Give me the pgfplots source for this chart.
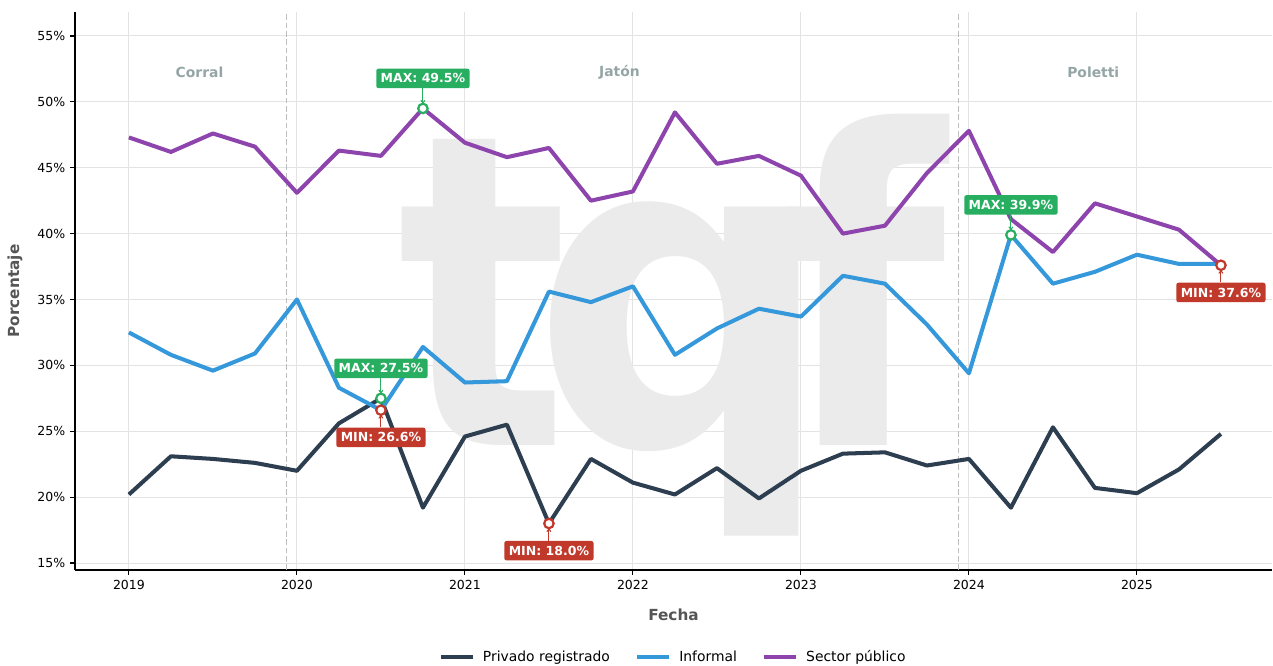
\documentclass[border=0pt]{standalone}
\usepackage{fontspec}
\setmainfont{DejaVu Sans}
\usepackage{graphicx}
\usepackage{pgfplots}
\usepackage{pgfplotstable}
\pgfplotsset{compat=1.18}
\usetikzlibrary{arrows.meta}
\definecolor{cpriv}{HTML}{2C3E50}
\definecolor{cinf}{HTML}{3498DB}
\definecolor{cpub}{HTML}{8E44AD}
\definecolor{cmax}{HTML}{27AE60}
\definecolor{cmin}{HTML}{C0392B}
\definecolor{cmay}{HTML}{95A5A6}
\definecolor{cgrid}{HTML}{E3E3E3}
\definecolor{clab}{HTML}{555555}
\definecolor{cdash}{HTML}{BDBDBD}
\definecolor{cwm}{HTML}{EBEBEB}

\pgfplotstableread{
x y
2019.00 20.2
2019.25 23.1
2019.50 22.9
2019.75 22.6
2020.00 22.0
2020.25 25.6
2020.50 27.5
2020.75 19.2
2021.00 24.6
2021.25 25.5
2021.50 18.0
2021.75 22.9
2022.00 21.1
2022.25 20.2
2022.50 22.2
2022.75 19.9
2023.00 22.0
2023.25 23.3
2023.50 23.4
2023.75 22.4
2024.00 22.9
2024.25 19.2
2024.50 25.3
2024.75 20.7
2025.00 20.3
2025.25 22.1
2025.50 24.8
}\priv

\pgfplotstableread{
x y
2019.00 32.5
2019.25 30.8
2019.50 29.6
2019.75 30.9
2020.00 35.0
2020.25 28.3
2020.50 26.6
2020.75 31.4
2021.00 28.7
2021.25 28.8
2021.50 35.6
2021.75 34.8
2022.00 36.0
2022.25 30.8
2022.50 32.8
2022.75 34.3
2023.00 33.7
2023.25 36.8
2023.50 36.2
2023.75 33.1
2024.00 29.4
2024.25 39.9
2024.50 36.2
2024.75 37.1
2025.00 38.4
2025.25 37.7
2025.50 37.7
}\inf

\pgfplotstableread{
x y
2019.00 47.3
2019.25 46.2
2019.50 47.6
2019.75 46.6
2020.00 43.1
2020.25 46.3
2020.50 45.9
2020.75 49.5
2021.00 46.9
2021.25 45.8
2021.50 46.5
2021.75 42.5
2022.00 43.2
2022.25 49.2
2022.50 45.3
2022.75 45.9
2023.00 44.4
2023.25 40.0
2023.50 40.6
2023.75 44.6
2024.00 47.8
2024.25 41.1
2024.50 38.6
2024.75 42.3
2025.00 41.3
2025.25 40.3
2025.50 37.6
}\pub

\tikzset{
  maxbox/.style={fill=cmax, text=white, font=\bfseries\fontsize{9}{11}\selectfont, rounded corners=1.5pt, inner xsep=3.2pt, inner ysep=3.6pt, anchor=center},
  minbox/.style={fill=cmin, text=white, font=\bfseries\fontsize{9}{11}\selectfont, rounded corners=1.5pt, inner xsep=3.2pt, inner ysep=3.6pt, anchor=center},
  wm/.style={text=cwm, font=\bfseries\fontsize{314}{314}\selectfont, anchor=base, inner sep=0pt},
  mayor/.style={text=cmay, font=\bfseries\fontsize{10}{12}\selectfont, anchor=center}
}

\begin{document}
\begin{tikzpicture}
\path[use as bounding box] (-54pt,-69.12pt) rectangle (862.56pt,410.4pt);
\begin{axis}[
  scale only axis, width=861.84pt, height=401.76pt,
  xmin=2018.679, xmax=2025.804, ymin=14.47, ymax=56.82,
  axis x line*=bottom, axis y line*=left,
  axis line style={-, black, line width=0.8pt},
  xtick={2019,2020,2021,2022,2023,2024,2025},
  ytick={15,20,25,30,35,40,45,50,55},
  yticklabel={\pgfmathprintnumber{\tick}\%},
  /pgf/number format/.cd, fixed, precision=0, 1000 sep={}, assume math mode=true,
  /pgfplots/.cd,
  tick align=outside, major tick length=3.5pt,
  tick style={black, line width=0.8pt},
  ticklabel style={font=\fontsize{9}{11}\selectfont, text=black},
  grid=major, major grid style={cgrid, line width=0.7pt},
  xlabel={Fecha}, ylabel={Porcentaje},
  label style={font=\bfseries\fontsize{11}{13}\selectfont, text=clab},
  xlabel style={at={(axis description cs:0.5,-0.0806)}, anchor=center},
  ylabel style={at={(axis description cs:-0.0501,0.5)}, anchor=center},
  legend style={at={(0.5,-0.156)}, anchor=center, draw=none, fill=none, legend columns=3,
    font=\fontsize{10}{12}\selectfont, /tikz/every even column/.append style={column sep=16pt}},
  legend image code/.code={\draw[#1, line width=2.9pt] (0pt,0pt) -- (23pt,0pt); \path (27pt,0pt);},
]
% watermark
\node[wm] at (axis cs:2021.11,23.95) {\scalebox{0.82}[1]{t}};
\node[wm] at (axis cs:2022.30,23.95) {\scalebox{0.97}[1]{q}};
\node[wm] at (axis cs:2023.37,23.95) {\scalebox{0.88}[1]{f}};

% mandate separators
\draw[cdash, line width=0.9pt, dash pattern=on 4pt off 2pt] (axis cs:2019.94,14.47) -- (axis cs:2019.94,56.82);
\draw[cdash, line width=0.9pt, dash pattern=on 4pt off 2pt] (axis cs:2023.94,14.47) -- (axis cs:2023.94,56.82);
\node[mayor] at (axis cs:2019.42,52.27) {Corral};
\node[mayor] at (axis cs:2021.92,52.27) {Jatón};
\node[mayor] at (axis cs:2024.74,52.27) {Poletti};

\addplot[cpriv, line width=2.9pt, line join=round, no markers] table[x=x,y=y] {\priv};
\addlegendentry{Privado registrado}
\addplot[cinf, line width=2.9pt, line join=round, no markers] table[x=x,y=y] {\inf};
\addlegendentry{Informal}
\addplot[cpub, line width=2.9pt, line join=round, no markers] table[x=x,y=y] {\pub};
\addlegendentry{Sector público}

% annotation boxes
\node[maxbox, yshift=21.6pt] (a1) at (axis cs:2020.75,49.5) {MAX: 49.5\%};
\node[maxbox, yshift=21.6pt] (a2) at (axis cs:2020.50,27.5) {MAX: 27.5\%};
\node[maxbox, yshift=21.6pt] (a3) at (axis cs:2024.25,39.9) {MAX: 39.9\%};
\node[minbox, yshift=-19.6pt] (b1) at (axis cs:2020.50,26.6) {MIN: 26.6\%};
\node[minbox, yshift=-19.6pt] (b2) at (axis cs:2021.50,18.0) {MIN: 18.0\%};
\node[minbox, yshift=-19.6pt] (b3) at (axis cs:2025.50,37.6) {MIN: 37.6\%};
\draw[cmax, line width=0.8pt, -{To[length=2.5pt,width=3.5pt]}] (a1.south) -- ([yshift=3.6pt]axis cs:2020.75,49.5);
\draw[cmax, line width=0.8pt, -{To[length=2.5pt,width=3.5pt]}] (a2.south) -- ([yshift=3.6pt]axis cs:2020.50,27.5);
\draw[cmax, line width=0.8pt, -{To[length=2.5pt,width=3.5pt]}] (a3.south) -- ([yshift=3.6pt]axis cs:2024.25,39.9);
\draw[cmin, line width=0.8pt, -{To[length=2.5pt,width=3.5pt]}] (b1.north) -- ([yshift=-3.6pt]axis cs:2020.50,26.6);
\draw[cmin, line width=0.8pt, -{To[length=2.5pt,width=3.5pt]}] (b2.north) -- ([yshift=-3.6pt]axis cs:2021.50,18.0);
\draw[cmin, line width=0.8pt, -{To[length=2.5pt,width=3.5pt]}] (b3.north) -- ([yshift=-3.6pt]axis cs:2025.50,37.6);

\addplot[only marks, mark=*, mark size=3.4pt, mark options={fill=white, draw=cmax, line width=1.6pt}, forget plot] coordinates {(2020.75,49.5) (2020.50,27.5) (2024.25,39.9)};
\addplot[only marks, mark=*, mark size=3.4pt, mark options={fill=white, draw=cmin, line width=1.6pt}, forget plot] coordinates {(2020.50,26.6) (2021.50,18.0) (2025.50,37.6)};
\end{axis}
\end{tikzpicture}
\end{document}
